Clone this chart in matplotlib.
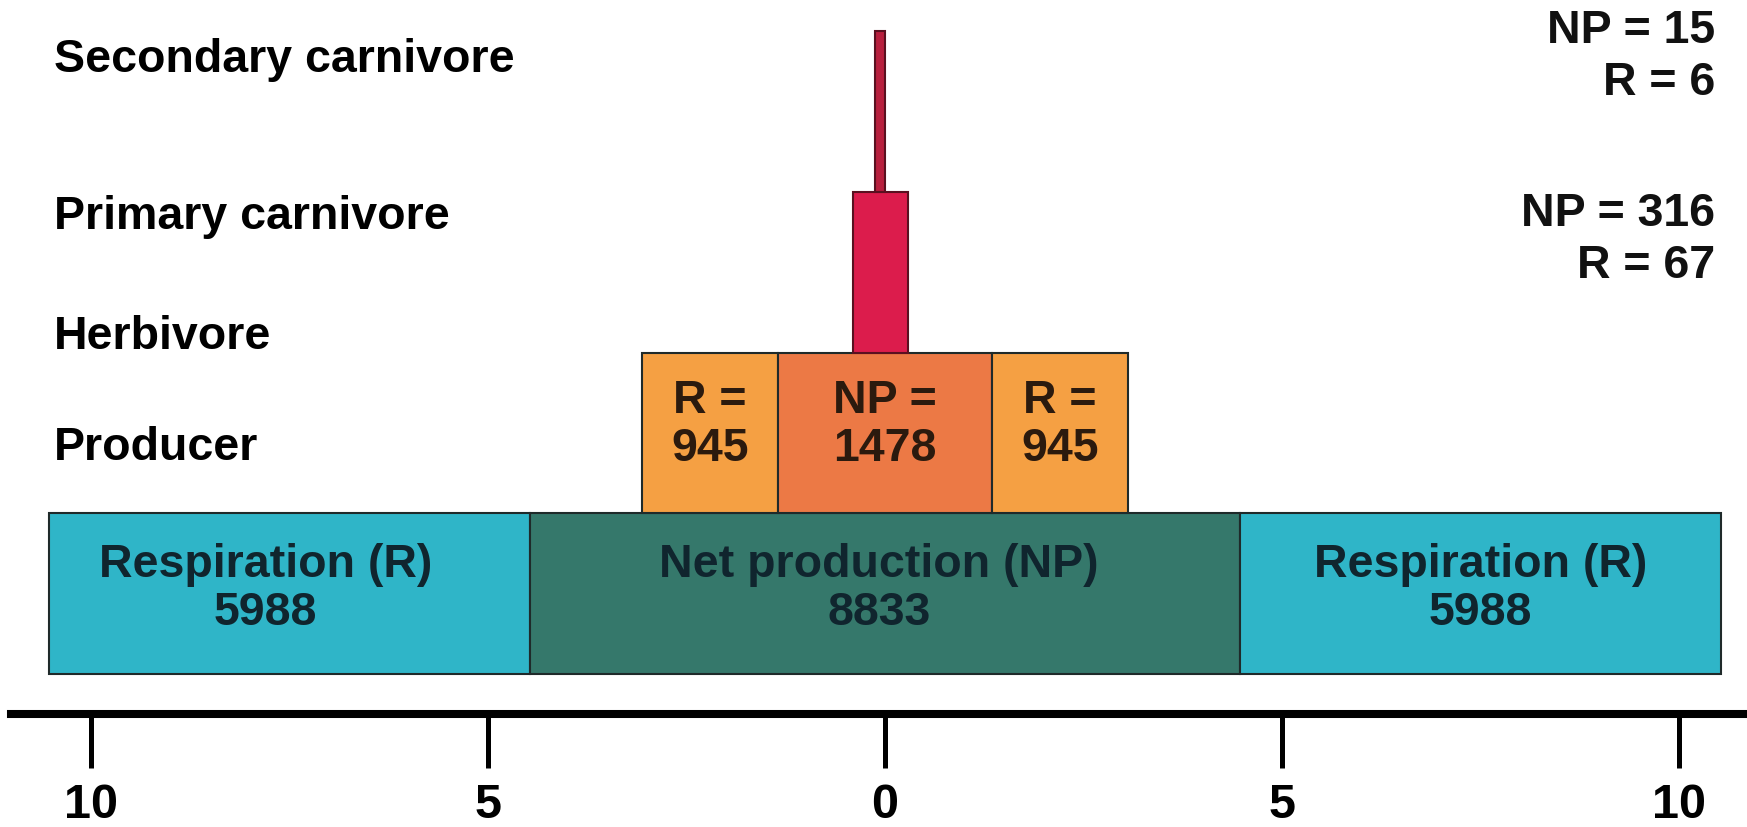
import matplotlib.pyplot as plt
from matplotlib.ticker import FuncFormatter

levels = ["Producer", "Herbivore", "Primary carnivore", "Secondary carnivore"]
net_production = [8833, 1478, 316, 15]
respiration = [5988, 945, 67, 6]
tick_values = [-10, -5, 0, 5, 10]

# the drawing exaggerates the widths of the upper levels so they stay visible
level_scale = [1.012, 1.82, 1.54, 4.7]
carnivore_shift = -0.06

r_colors = ["#2fb5c8", "#f5a043", "#dc1c4c", "#b81f3e"]
np_colors = ["#35786b", "#ec7945", "#dc1c4c", "#b81f3e"]
edge = "#1f2a2a"

plt.rcParams['font.family'] = ['Liberation Sans', 'DejaVu Sans']
plt.rcParams['font.weight'] = 'bold'

fig = plt.figure(figsize=(17.47, 8.27), dpi=100)
ax = fig.add_axes([11 / 1747, 113 / 827, 1736 / 1747, 714 / 827])

for i, (npv, rv, s) in enumerate(zip(net_production, respiration, level_scale)):
    np_w = npv / 1000 * s
    r_w = rv / 1000 * s
    if i < 2:
        ax.barh(i, r_w, left=-np_w / 2 - r_w, height=1, align='edge',
                color=r_colors[i], edgecolor=edge, linewidth=1.5)
        ax.barh(i, np_w, left=-np_w / 2, height=1, align='edge',
                color=np_colors[i], edgecolor=edge, linewidth=1.5)
        ax.barh(i, r_w, left=np_w / 2, height=1, align='edge',
                color=r_colors[i], edgecolor=edge, linewidth=1.5)
    else:
        total = np_w + 2 * r_w
        ax.barh(i, total, left=-total / 2 + carnivore_shift, height=1,
                align='edge', color=np_colors[i], edgecolor="#5a1020",
                linewidth=1.5)

fs = 33.5

# labels inside producer bars
pc = "#10252e"
s = level_scale[0]
pn = net_production[0] / 1000 * s
pr = respiration[0] / 1000 * s
for xc, txt in [(-pn / 2 - pr / 2 - 0.3, f"Respiration (R)\n{respiration[0]}"),
                (-0.08, f"Net production (NP)\n{net_production[0]}"),
                (pn / 2 + pr / 2, f"Respiration (R)\n{respiration[0]}")]:
    ax.text(xc, 0.53, txt, ha='center', va='center', fontsize=fs,
            color=pc, linespacing=1.12)

# labels inside herbivore bars
hc = "#2b1a0e"
s = level_scale[1]
hn = net_production[1] / 1000 * s
hr = respiration[1] / 1000 * s
for xc, txt in [(-hn / 2 - hr / 2, f"R =\n{respiration[1]}"),
                (0, f"NP =\n{net_production[1]}"),
                (hn / 2 + hr / 2, f"R =\n{respiration[1]}")]:
    ax.text(xc, 1.55, txt, ha='center', va='center', fontsize=fs,
            color=hc, linespacing=1.12)

# level names on the left
label_y = [1.409, 2.097, 2.843, 3.823]
for name, y in zip(levels, label_y):
    ax.text(0.0248, y, name, transform=ax.get_yaxis_transform(),
            ha='left', va='center', fontsize=fs, color='black')

# carnivore values on the right
ax.text(10.45, 3.838, f"NP = {net_production[3]}\nR = {respiration[3]}",
        ha='right', va='center', fontsize=fs, color='#111111', linespacing=1.22)
ax.text(10.45, 2.70, f"NP = {net_production[2]}\nR = {respiration[2]}",
        ha='right', va='center', fontsize=fs, color='#111111', linespacing=1.22)

ax.set_xlim(-11.007, 10.856)
ax.set_ylim(-0.2489, 4.1941)

for side in ['top', 'left', 'right']:
    ax.spines[side].set_visible(False)
ax.spines['bottom'].set_linewidth(5.8)
ax.spines['bottom'].set_color('black')
ax.set_yticks([])
ax.set_xticks(tick_values)
ax.xaxis.set_major_formatter(FuncFormatter(lambda v, p: f"{abs(v):.0f}"))
ax.tick_params(axis='x', direction='out', length=39, width=3.6, pad=11,
               labelsize=35, colors='black')

fig.savefig("out.png", dpi=100)
